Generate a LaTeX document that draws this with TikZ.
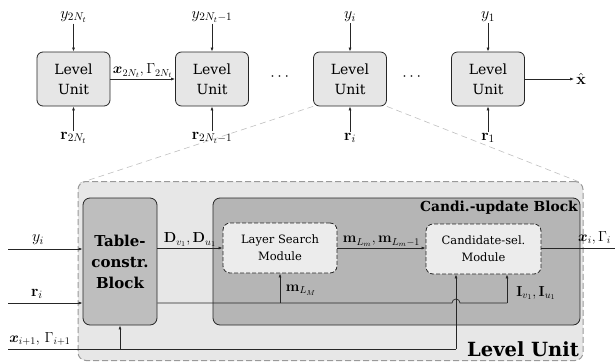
\RequirePackage{fix-cm}
\documentclass[tikz,border=0pt]{standalone}
\usepackage{amsmath}
\usepackage{bm}
\usepackage[no-math]{fontspec}
\setmainfont{DejaVu Serif}
\usetikzlibrary{arrows.meta}
\definecolor{bgl}{RGB}{231,231,231}
\definecolor{tabc}{RGB}{190,190,190}
\definecolor{candc}{RGB}{181,181,181}
\definecolor{modc}{RGB}{236,236,236}
\definecolor{unitc}{RGB}{230,230,230}
\tikzset{
  arr/.style={-{Latex[length=4pt,width=3pt]}, line width=0.7pt, draw=black!85},
  ln/.style={line width=0.7pt, draw=black!85},
  lunit/.style={draw=black!85, line width=0.8pt, fill=unitc, rounded corners=6pt,
    minimum width=73pt, minimum height=54pt, align=center, inner sep=0pt,
    font=\fontsize{14}{20}\selectfont},
  bigbox/.style={draw=black!40, dashed, dash pattern=on 6pt off 3pt, line width=1pt, fill=bgl, rounded corners=8pt, inner sep=0pt},
  tabbox/.style={draw=black!85, line width=0.8pt, fill=tabc, rounded corners=7pt, inner sep=0pt,
    minimum width=74pt, minimum height=127pt, align=center,
    font=\bfseries\fontsize{15}{21}\selectfont},
  candbox/.style={draw=black!85, line width=0.8pt, fill=candc, rounded corners=7pt, inner sep=0pt,
    minimum width=367pt, minimum height=127pt},
  modbox/.style={draw=black!85, dashed, dash pattern=on 4pt off 2pt, line width=0.8pt, fill=modc, rounded corners=7pt,
    inner sep=0pt, minimum height=50pt, align=center, font=\fontsize{11.5}{17}\selectfont},
  lbl/.style={font=\fontsize{16}{18}\selectfont, inner sep=1pt},
  slbl/.style={font=\fontsize{14.5}{16}\selectfont, inner sep=1pt},
  zoomln/.style={draw=black!25, dashed, dash pattern=on 6pt off 4pt, line width=0.6pt}
}
\begin{document}
\begin{tikzpicture}[x=1pt,y=-1pt]
\useasboundingbox (0,0) rectangle (615,362);
\clip (0,0) rectangle (615,362);
% top row
\node[lunit] (lu1) at (73.5,79) {Level\\Unit};
\node[lunit] (lu2) at (212,79) {Level\\Unit};
\node[lunit] (lu3) at (350,79) {Level\\Unit};
\node[lunit] (lu4) at (488,79) {Level\\Unit};
\node[lbl] (y1) at (73.5,17) {$y_{2N_t}$};
\node[lbl] (y2) at (212,17) {$y_{2N_t-1}$};
\node[lbl] (y3) at (350,17) {$y_{i}$};
\node[lbl] (y4) at (488,17) {$y_{1}$};
\node[lbl] (r1) at (73.5,138) {$\mathbf{r}_{2N_t}$};
\node[lbl] (r2) at (212,138) {$\mathbf{r}_{2N_t-1}$};
\node[lbl] (r3) at (350,138) {$\mathbf{r}_{i}$};
\node[lbl] (r4) at (488,138) {$\mathbf{r}_{1}$};
\foreach \k in {1,2,3,4} {
  \draw[arr] (y\k) -- (lu\k);
  \draw[arr] (r\k) -- (lu\k);
}
\draw[arr] (lu1) -- node[slbl, above, yshift=0pt] {$\bm{x}_{2N_t},\Gamma_{2N_t}$} (lu2);
\node[lbl] (d1) at (281,77) {$\cdots$};
\node[lbl] (d2) at (413,77) {$\cdots$};
\node[lbl, inner sep=2pt] (xhat) at (581,79) {$\hat{\mathbf{x}}$};
\draw[arr] (lu4) -- (xhat);
% zoom lines
\coordinate (bnw) at (80,183);
\coordinate (bne) at (582,183);
\draw[zoomln] (lu3.south west) -- (bnw);
\draw[zoomln] (lu3.south east) -- (bne);
% big box
\node[bigbox, minimum width=505pt, minimum height=179pt] (lub) at (330.5,271) {};
\node[font=\bfseries\fontsize{19.5}{22}\selectfont, anchor=east, inner sep=0pt] (lut) at (579,349) {Level Unit};
\node[tabbox] (tab) at (120,261.5) {Table-\\constr.\\Block};
\node[candbox] (cand) at (396.5,261.5) {};
\node[font=\bfseries\fontsize{13.8}{15}\selectfont, anchor=east, inner sep=0pt] (candt) at (578,208) {Candi.-update Block};
\node[modbox, minimum width=114pt] (ls) at (280,248) {Layer Search\\Module};
\node[modbox, minimum width=115pt] (cs) at (483.5,249) {Candidate-sel.\\Module};
% inputs
\coordinate (yin) at (8,249);
\coordinate (rin) at (8,303);
\coordinate (xin) at (8,349);
\draw[arr] (yin) -- (yin -| tab.west);
\draw[arr] (rin) -- (rin -| tab.west);
\node[lbl] at (38,240) {$y_i$};
\node[lbl] at (37,294) {$\mathbf{r}_i$};
\node[slbl] at (40,339) {$\bm{x}_{i+1},\,\Gamma_{i+1}$};
% D arrow
\draw[arr] (ls.west -| tab.east) -- node[slbl, above, yshift=0pt] {$\mathbf{D}_{v_1},\mathbf{D}_{u_1}$} (ls.west);
% m arrow
\draw[arr] (ls.east) -- node[slbl, above, yshift=0pt] {$\mathbf{m}_{L_m},\mathbf{m}_{L_m-1}$} (ls.east -| cs.west);
% output
\coordinate (oend) at (625,248);
\draw[arr] (cs.east |- ls.east) -- (oend);
\node[slbl, anchor=west] at (577,238) {$\bm{x}_i,\Gamma_i$};
% bottom line with hop
\coordinate (hopl) at (452,303);
\coordinate (bturn) at (507,303);
\draw[ln] (rin -| tab.east) -- (hopl) arc[start angle=180, end angle=0, radius=4pt] -- (bturn);
\draw[arr] (bturn) -- (bturn |- cs.south);
\coordinate (lsb) at (280,303);
\draw[arr] (lsb) -- (ls.south);
\node[slbl] at (301,290) {$\mathbf{m}_{L_M}$};
\node[slbl] at (536,293) {$\mathbf{I}_{v_1},\mathbf{I}_{u_1}$};
% x_{i+1} line
\coordinate (xturn) at (456,349);
\draw[ln] (xin) -- (xturn);
\draw[arr] (xturn) -- (xturn |- cs.south);
\coordinate (tb) at (120,349);
\draw[arr] (tb) -- (tab.south);
\end{tikzpicture}
\end{document}
